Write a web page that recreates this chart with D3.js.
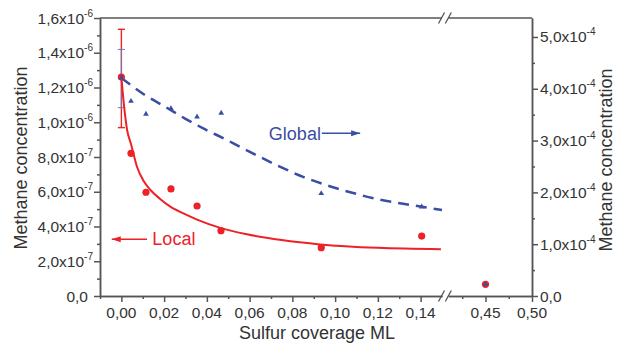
<!DOCTYPE html>
<html><head><meta charset="utf-8">
<script src="https://cdn.jsdelivr.net/npm/d3@7"></script>
<style>
html,body{margin:0;padding:0;background:#fff;}
svg{display:block;font-family:"Liberation Sans",Arial,sans-serif;}
</style></head>
<body><svg id="c" width="617" height="344"></svg>
<script>
// ---------- data ----------
const localX = [0, 0.0045, 0.0115, 0.0232, 0.0354, 0.0466, 0.0935, 0.1405, 0.45];
const localY = [1.26e-6, 8.21e-7, 5.97e-7, 6.16e-7, 5.18e-7, 3.76e-7, 2.78e-7, 3.45e-7, 6.7e-8];
const localErr = [9.69e-7, 1.535e-6];           // at x = 0
const globalX = [0, 0.0045, 0.0115, 0.0232, 0.0354, 0.0467, 0.0935, 0.1405, 0.45];
const globalY = [4.21e-4, 3.76e-4, 3.51e-4, 3.62e-4, 3.46e-4, 3.53e-4, 1.98e-4, 1.72e-4, 2.26e-5];
const globalErr = [3.635e-4, 4.76e-4];          // at x = 0
const localFitX = [0, 0.0012, 0.0027, 0.0045, 0.0073, 0.0105, 0.0136, 0.018, 0.0229, 0.029, 0.0354, 0.0463, 0.0587, 0.075, 0.093, 0.12, 0.1495];
const localFitY = [1.26e-6, 1.10e-6, 9.55e-7, 8.75e-7, 7.44e-7, 6.6e-7, 6.1e-7, 5.6e-7, 5.14e-7, 4.75e-7, 4.4e-7, 3.92e-7, 3.55e-7, 3.22e-7, 2.97e-7, 2.77e-7, 2.69e-7];
const globalFitX = [0, 0.011, 0.021, 0.03, 0.039, 0.048, 0.056, 0.073, 0.085, 0.099, 0.11, 0.121, 0.135, 0.15];
const globalFitY = [4.21e-4, 3.88e-4, 3.64e-4, 3.42e-4, 3.22e-4, 3.04e-4, 2.87e-4, 2.52e-4, 2.30e-4, 2.10e-4, 1.97e-4, 1.86e-4, 1.76e-4, 1.66e-4];

const xMajor1 = [0, 0.02, 0.04, 0.06, 0.08, 0.10, 0.12, 0.14];
const xLabels1 = ["0,00", "0,02", "0,04", "0,06", "0,08", "0,10", "0,12", "0,14"];
const xMinor1 = [-0.01, 0.01, 0.03, 0.05, 0.07, 0.09, 0.11, 0.13];
const xMajor2 = [0.45, 0.50];
const xLabels2 = ["0,45", "0,50"];
const xMinor2 = [0.425, 0.475];

const yLeftTicks = [0, 2e-7, 4e-7, 6e-7, 8e-7, 1.0e-6, 1.2e-6, 1.4e-6, 1.6e-6];
const yLeftMant = ["0,0", "2,0", "4,0", "6,0", "8,0", "1,0", "1,2", "1,4", "1,6"];
const yLeftExp = ["", "-7", "-7", "-7", "-7", "-6", "-6", "-6", "-6"];
const yLeftMinor = [1e-7, 3e-7, 5e-7, 7e-7, 9e-7, 1.1e-6, 1.3e-6, 1.5e-6];
const yRightTicks = [0, 1e-4, 2e-4, 3e-4, 4e-4, 5e-4];
const yRightMant = ["0,0", "1,0", "2,0", "3,0", "4,0", "5,0"];
const yRightExp = ["", "-4", "-4", "-4", "-4", "-4"];
const yRightMinor = [0.5e-4, 1.5e-4, 2.5e-4, 3.5e-4, 4.5e-4];

const yTitle = "Methane concentration";
const xTitle = "Sulfur coverage ML";
const globalNote = {text: "Global", x: 0.069, y: 3.01e-4, arrowFrom: 0.1025, arrowTo: 0.1117, arrowY: 3.14e-4};
const localNote = {text: "Local", x: 0.0145, y: 2.935e-7, arrowFrom: 0.012, arrowTo: -0.0045, arrowY: 3.26e-7};

// ---------- styles ----------
const RED = "#ec2227", BLUE = "#3a4ea2", AX = "#555";
const svg = d3.select("#c");

const L = 100, R = 532, T = 18, B = 296;
const x1 = d3.scaleLinear().domain([-0.01, 0.15]).range([L, 442]);
const x2 = d3.scaleLinear().domain([0.41, 0.50]).range([448.3, R]);
const xp = v => v > 0.3 ? x2(v) : x1(v);
const yL = d3.scaleLinear().domain([0, 1.6e-6]).range([B, T]);
const yR = d3.scaleLinear().domain([0, 5.366e-4]).range([B, T]);

function styleAxis(g) {
  g.selectAll("path,line").attr("stroke", AX).attr("stroke-width", 1.5);
  g.selectAll("text").remove();
}
// bottom axes
[[x1, xMajor1, xMinor1], [x2, xMajor2, xMinor2]].forEach(([sc, maj, min]) => {
  svg.append("g").attr("transform", `translate(0,${B})`)
    .call(d3.axisBottom(sc).tickValues(min).tickSize(3).tickSizeOuter(0)).call(styleAxis);
  svg.append("g").attr("transform", `translate(0,${B})`)
    .call(d3.axisBottom(sc).tickValues(maj).tickSize(6).tickSizeOuter(0)).call(styleAxis);
});
// top lines
[x1, x2].forEach(sc => {
  svg.append("line").attr("x1", sc.range()[0]).attr("x2", sc.range()[1])
    .attr("y1", T).attr("y2", T).attr("stroke", AX).attr("stroke-width", 1.5);
});
// break marks
[T, B].forEach(yy => {
  [441.5, 448.3].forEach(xx => {
    svg.append("line").attr("x1", xx - 3).attr("y1", yy + 5.5).attr("x2", xx + 3).attr("y2", yy - 5.5)
      .attr("stroke", AX).attr("stroke-width", 1.3);
  });
});
// left axis
svg.append("g").attr("transform", `translate(${L},0)`)
  .call(d3.axisLeft(yL).tickValues(yLeftMinor).tickSize(3).tickSizeOuter(0)).call(styleAxis);
svg.append("g").attr("transform", `translate(${L},0)`)
  .call(d3.axisLeft(yL).tickValues(yLeftTicks).tickSize(6).tickSizeOuter(0)).call(styleAxis);
// right axis
svg.append("g").attr("transform", `translate(${R},0)`)
  .call(d3.axisRight(yR).tickValues(yRightMinor).tickSize(3).tickSizeOuter(0)).call(styleAxis);
svg.append("g").attr("transform", `translate(${R},0)`)
  .call(d3.axisRight(yR).tickValues(yRightTicks).tickSize(6).tickSizeOuter(0)).call(styleAxis);

// tick labels
const FS = 15.5;
function expLabel(x, y, mant, exp, anchor) {
  const t = svg.append("text").attr("x", x).attr("y", y).attr("text-anchor", anchor)
    .attr("font-size", FS).attr("fill", "#333");
  if (exp === "") { t.text(mant); return; }
  t.append("tspan").text(mant + "x10");
  t.append("tspan").attr("dy", -7).attr("font-size", 10).text(exp);
}
yLeftTicks.forEach((v, i) => {
  expLabel(yLeftExp[i] === "" ? 88 : 93, yL(v) + 5.5, yLeftMant[i], yLeftExp[i], "end");
});
yRightTicks.forEach((v, i) => {
  expLabel(540, yR(v) + 5.5, yRightMant[i], yRightExp[i], "start");
});
xMajor1.forEach((v, i) => {
  svg.append("text").attr("x", x1(v)).attr("y", B + 21.5).attr("text-anchor", "middle")
    .attr("font-size", FS).attr("fill", "#333").text(xLabels1[i]);
});
xMajor2.forEach((v, i) => {
  svg.append("text").attr("x", x2(v)).attr("y", B + 21.5).attr("text-anchor", "middle")
    .attr("font-size", FS).attr("fill", "#333").text(xLabels2[i]);
});

// titles
svg.append("text").attr("transform", `translate(26.5,${(T + B) / 2 + 1}) rotate(-90)`)
  .attr("text-anchor", "middle").attr("font-size", 18).attr("fill", "#333").text(yTitle);
svg.append("text").attr("transform", `translate(612,${(T + B) / 2 + 3}) rotate(-90)`)
  .attr("text-anchor", "middle").attr("font-size", 18).attr("fill", "#333").text(yTitle);
svg.append("text").attr("x", 317).attr("y", 339).attr("text-anchor", "middle")
  .attr("font-size", 18).attr("fill", "#333").text(xTitle);

// error bars
function errBar(x, lo, hi, ys, color, w) {
  const g = svg.append("g").attr("stroke", color).attr("stroke-width", w);
  g.append("line").attr("x1", xp(x)).attr("x2", xp(x)).attr("y1", ys(lo)).attr("y2", ys(hi));
  [lo, hi].forEach(v => g.append("line").attr("x1", xp(x) - 3.5).attr("x2", xp(x) + 3.5)
    .attr("y1", ys(v)).attr("y2", ys(v)));
}
errBar(0, localErr[0], localErr[1], yL, RED, 1.4);
errBar(0, globalErr[0], globalErr[1], yR, "#6a78b8", 1.0);

// fits
svg.append("path").datum(localFitX.map((x, i) => [x, localFitY[i]]))
  .attr("d", d3.line().x(d => x1(d[0])).y(d => yL(d[1])).curve(d3.curveMonotoneX))
  .attr("fill", "none").attr("stroke", RED).attr("stroke-width", 2);
svg.append("path").datum(globalFitX.map((x, i) => [x, globalFitY[i]]))
  .attr("d", d3.line().x(d => x1(d[0])).y(d => yR(d[1])).curve(d3.curveMonotoneX))
  .attr("fill", "none").attr("stroke", BLUE).attr("stroke-width", 2.5).attr("stroke-dasharray", "11,7");

// points
svg.append("g").selectAll("circle").data(localX.map((x, i) => [x, localY[i]])).join("circle")
  .attr("cx", d => xp(d[0])).attr("cy", d => yL(d[1])).attr("r", 3.6).attr("fill", RED);
svg.append("g").selectAll("path").data(globalX.map((x, i) => [x, globalY[i]])).join("path")
  .attr("d", d3.symbol(d3.symbolTriangle, 14))
  .attr("transform", d => `translate(${xp(d[0])},${yR(d[1])})`).attr("fill", BLUE);

// annotations
function arrow(xa, xb, y, color) {
  svg.append("line").attr("x1", xa).attr("x2", xb).attr("y1", y).attr("y2", y)
    .attr("stroke", color).attr("stroke-width", 1.5);
  const dir = xb > xa ? 1 : -1;
  svg.append("path").attr("d", `M${xb},${y}L${xb - dir * 9},${y - 3}L${xb - dir * 9},${y + 3}Z`).attr("fill", color);
}
svg.append("text").attr("x", x1(globalNote.x)).attr("y", yR(globalNote.y)).attr("font-size", 18)
  .attr("fill", BLUE).text(globalNote.text);
arrow(x1(globalNote.x) + 53, x1(globalNote.arrowTo), yR(globalNote.arrowY), BLUE);
svg.append("text").attr("x", x1(localNote.x)).attr("y", yL(localNote.y)).attr("font-size", 18)
  .attr("fill", RED).text(localNote.text);
arrow(x1(localNote.arrowFrom), x1(localNote.arrowTo), yL(localNote.arrowY), RED);
</script></body></html>
